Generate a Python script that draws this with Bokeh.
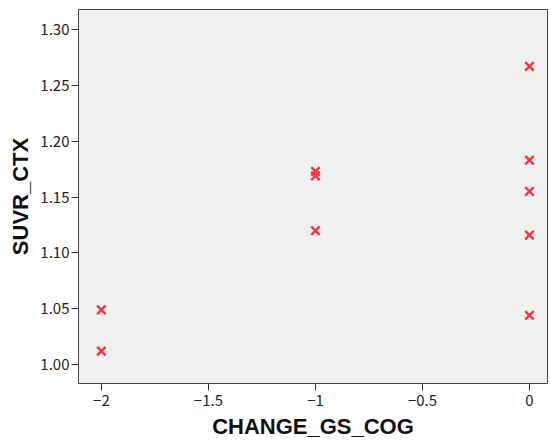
from bokeh.plotting import figure
from bokeh.models import Range1d, FixedTicker, CustomJSTickFormatter
from bokeh.embed import file_html
from bokeh.resources import INLINE

change_gs_cog = [-2, -2, -1, -1, -1, 0, 0, 0, 0, 0]
suvr_ctx = [1.049, 1.012, 1.173, 1.169, 1.120, 1.267, 1.183, 1.155, 1.116, 1.044]
x_ticks = [-2, -1.5, -1, -0.5, 0]
y_ticks = [1.00, 1.05, 1.10, 1.15, 1.20, 1.25, 1.30]

TICK_FONT = "Noto Sans CJK JP"
LABEL_FONT = "Liberation Sans"

p = figure(width=549, height=441, output_backend="svg", toolbar_location=None,
           x_range=Range1d(-2.107, 0.084), y_range=Range1d(0.983, 1.318),
           min_border_left=78, min_border_right=2, min_border_top=9, min_border_bottom=58)
p.background_fill_color = "#f0f0f0"
p.border_fill_color = "white"
p.outline_line_color = "#444444"
p.outline_line_width = 1
p.grid.visible = False

p.scatter(change_gs_cog, suvr_ctx, marker="x", size=12, line_width=2.5, line_color="#ee3a3f")

p.xaxis.ticker = FixedTicker(ticks=x_ticks)
p.yaxis.ticker = FixedTicker(ticks=y_ticks)
p.xaxis.formatter = CustomJSTickFormatter(code="return String(tick).replace('-', '\u2212');")
p.yaxis.formatter = CustomJSTickFormatter(code="return tick.toFixed(2);")

for ax in (p.xaxis, p.yaxis):
    ax.axis_line_color = None
    ax.major_tick_line_color = "#333333"
    ax.major_tick_line_width = 1
    ax.major_tick_out = 7
    ax.major_tick_in = 0
    ax.minor_tick_line_color = None
    ax.major_label_text_font = TICK_FONT
    ax.major_label_text_font_size = "15px"
    ax.major_label_text_color = "#222222"
    ax.axis_label_text_font = LABEL_FONT
    ax.axis_label_text_font_size = "22px"
    ax.axis_label_text_font_style = "bold"
    ax.axis_label_text_color = "#111111"

p.xaxis.axis_label = "CHANGE_GS_COG"
p.yaxis.axis_label = "SUVR_CTX"
p.yaxis.major_label_standoff = 2
p.xaxis.major_label_standoff = 4
p.xaxis.axis_label_standoff = 5
p.yaxis.axis_label_standoff = 4

open("out.html", "w").write(file_html(p, INLINE))
